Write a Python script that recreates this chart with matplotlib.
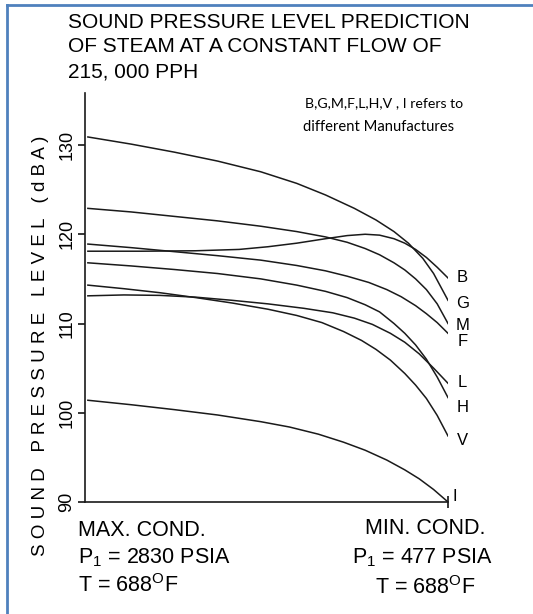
import numpy as np
import matplotlib
matplotlib.use('Agg')
import matplotlib.pyplot as plt

# narrow sans face to get close to the scanned lettering
plt.rcParams['font.family'] = ['Liberation Sans', 'DejaVu Sans']
plt.rcParams['mathtext.fontset'] = 'custom'
plt.rcParams['mathtext.rm'] = 'Liberation Sans'

# x runs from max condition (0) to min condition (100)
names = ['B', 'G', 'M', 'F', 'L', 'H', 'V', 'I']

x_B = [0, 15, 30, 42, 50, 58, 66, 72, 77, 81, 85, 88, 91, 94, 97, 100]
y_B = [118.1, 118.1, 118.15, 118.3, 118.6, 119.0, 119.5, 119.85, 120.0, 119.9,
       119.5, 119.0, 118.3, 117.4, 116.3, 115.1]

x_G = [0, 12, 24, 36, 48, 58, 66, 74, 80, 85, 89, 93, 96, 100]
y_G = [130.9, 130.1, 129.2, 128.2, 127.0, 125.7, 124.4, 122.9, 121.6, 120.3,
       119.0, 117.3, 115.6, 112.6]

x_M = [0, 12, 24, 36, 48, 58, 66, 72, 77, 81, 85, 88, 91, 94, 97, 100]
y_M = [122.9, 122.5, 122.0, 121.5, 120.9, 120.3, 119.7, 119.1, 118.4, 117.7,
       116.8, 116.0, 115.0, 113.8, 112.2, 110.0]

x_F = [0, 12, 24, 36, 48, 58, 66, 72, 78, 83, 87, 91, 94, 97, 100]
y_F = [118.9, 118.5, 118.05, 117.6, 117.1, 116.5, 115.9, 115.3, 114.6, 113.8,
       113.0, 112.0, 111.1, 110.1, 108.9]

x_L = [0, 10, 20, 30, 40, 50, 60, 68, 74, 79, 84, 88, 92, 96, 100]
y_L = [113.1, 113.2, 113.15, 112.95, 112.6, 112.2, 111.7, 111.2, 110.6, 109.9,
       108.9, 107.9, 106.6, 105.0, 103.3]

x_H = [0, 12, 24, 36, 48, 58, 66, 72, 77, 81, 85, 88, 91, 94, 97, 100]
y_H = [116.8, 116.45, 116.05, 115.6, 115.0, 114.3, 113.6, 112.9, 112.1, 111.3,
       110.0, 108.9, 107.6, 106.0, 104.0, 101.7]

x_V = [0, 10, 20, 30, 40, 50, 58, 65, 71, 76, 80, 84, 88, 91, 94, 97, 100]
y_V = [114.3, 113.9, 113.45, 112.9, 112.3, 111.6, 110.9, 110.1, 109.1, 108.1,
       107.1, 105.9, 104.4, 103.1, 101.6, 99.7, 97.4]

x_I = [0, 12, 24, 36, 48, 56, 64, 71, 77, 83, 88, 92, 96, 100]
y_I = [101.4, 100.9, 100.35, 99.75, 99.0, 98.4, 97.6, 96.7, 95.8, 94.7, 93.6,
       92.6, 91.4, 90.0]

# where the letters sit at the right hand end
label_x = [104, 104, 104, 104, 104, 104, 104, 102]
label_y = [115.1, 112.2, 109.8, 108.0, 103.4, 100.6, 96.9, 90.6]

yticks = [90, 100, 110, 120, 130]

W, H = 533, 614
fig = plt.figure(figsize=(W / 100, H / 100), dpi=100)

def px(x, y):
    return x / W, 1 - y / H

# axes box in pixels: x 85..448, y 93..502
ax = fig.add_axes([85 / W, (H - 502) / H, (448 - 85) / W, (502 - 93) / H])
ax.set_xlim(-0.8, 100)
ax.set_ylim(90, 90 + 409 / 8.925)

series = [(x_B, y_B), (x_G, y_G), (x_M, y_M), (x_F, y_F),
          (x_L, y_L), (x_H, y_H), (x_V, y_V), (x_I, y_I)]
for (xs, ys) in series:
    ax.plot(xs, ys, color='#1a1a1a', lw=1.1, solid_joinstyle='round')

for n, lx, ly in zip(names, label_x, label_y):
    ax.text(lx, ly, n, fontsize=12, ha='center', va='center', clip_on=False)

for s in ['top', 'right']:
    ax.spines[s].set_visible(False)
for s in ['left', 'bottom']:
    ax.spines[s].set_linewidth(1.2)
    ax.spines[s].set_color('#1a1a1a')

ax.set_yticks(yticks)
ax.set_yticklabels([str(t) for t in yticks], rotation=90, va='center', fontsize=13)
ax.tick_params(axis='y', direction='out', length=5, width=1.1, pad=2)
ax.set_xticks([100])
ax.set_xticklabels([''])
ax.tick_params(axis='x', direction='inout', length=8, width=1.1)

# title
title_lines = ['SOUND PRESSURE LEVEL PREDICTION',
               'OF STEAM AT A CONSTANT FLOW OF',
               '215, 000 PPH']
for i, t in enumerate(title_lines):
    fig.text(*px(68, 22 + 25 * i), t, fontsize=15, ha='left', va='center')

# note
fig.text(*px(305, 103), 'B,G,M,F,L,H,V , I refers to', fontsize=10.2,
         family='Lato', ha='left', va='center')
fig.text(*px(303, 127), 'different Manufactures', fontsize=10.6,
         family='Lato', ha='left', va='center')

# y label with the spaced lettering of the original
fig.text(*px(41, 346), 'S O U N D   P R E S S U R E   L E V E L   ( d B A )',
         fontsize=13.5, rotation=90, ha='center', va='center')

# conditions under the axis
left_cond = ['MAX. COND.', 'P$_1$ = 2830 PSIA', 'T = 688$^{\\rm O}$F']
right_cond = ['MIN. COND.', 'P$_1$ = 477 PSIA', 'T = 688$^{\\rm O}$F']
for i, t in enumerate(left_cond):
    fig.text(*px(78, 530 + 28 * i), t, fontsize=15.5, ha='left', va='center')
for i, (t, x0) in enumerate(zip(right_cond, [365, 352, 375])):
    fig.text(*px(x0, 528 + 30 * i), t, fontsize=15.5, ha='left', va='center')

# blue frame of the cropped page
fig.add_artist(plt.Line2D([7 / W, 7 / W], [0, 1 - 5 / H], color='#4f81bd', lw=2))
fig.add_artist(plt.Line2D([7 / W, 1], [1 - 5 / H, 1 - 5 / H], color='#4f81bd', lw=2))

fig.savefig('out.png', dpi=100)
